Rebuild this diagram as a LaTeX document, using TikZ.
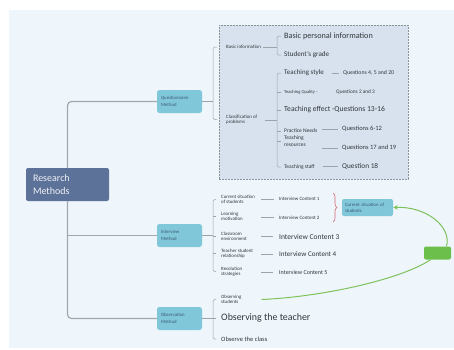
\documentclass[tikz,border=0pt]{standalone}
\usepackage{fontspec}
\setmainfont{Carlito}
\usetikzlibrary{decorations.pathreplacing,arrows.meta}
\definecolor{bgc}{HTML}{EEF5FB}
\definecolor{rmc}{HTML}{5D7299}
\definecolor{boxteal}{HTML}{80C8D9}
\definecolor{dashfill}{HTML}{D8E2EE}
\definecolor{dashc}{HTML}{8A949E}
\definecolor{linec}{HTML}{9CA3AA}
\definecolor{trunkc}{HTML}{A3A8AD}
\definecolor{textc}{HTML}{30363C}
\definecolor{boxtext}{HTML}{3D5A76}
\definecolor{gfill}{HTML}{6CBF4A}
\definecolor{gline}{HTML}{7DC25C}
\definecolor{bracered}{HTML}{D46C72}
\newcommand\myfs[2]{\fontsize{#1}{#2}\selectfont}
\tikzset{
  rmbox/.style={fill=rmc, rounded corners=2pt, text width=69pt, inner xsep=7pt, inner ysep=0pt,
    minimum height=33pt, align=left, text=white!90!rmc, font=\myfs{10}{12.5}},
  mbox/.style={fill=boxteal, rounded corners=2.5pt, text width=37pt, inner xsep=4pt, inner ysep=0pt,
    minimum height=23pt, align=left, text=boxtext, font=\myfs{4.8}{6.5}},
  sbox/.style={fill=boxteal, rounded corners=2pt, text width=45pt, inner xsep=3pt, inner ysep=0pt,
    minimum height=17pt, align=left, text=boxtext, font=\myfs{4.8}{6}},
  dbox/.style={fill=dashfill, draw=dashc, line width=0.9pt, dash pattern=on 1.8pt off 1.2pt,
    minimum width=189pt, minimum height=154pt, inner sep=0pt},
  gbox/.style={fill=gfill, rounded corners=2pt, minimum width=27pt, minimum height=13pt, inner sep=0pt},
  txt/.style={inner sep=0pt, anchor=west, align=left, text=textc},
  small/.style={font=\myfs{4.9}{5.3}},
  trunk/.style={draw=trunkc, line width=1.2pt, rounded corners=4pt},
  lnk/.style={draw=linec, line width=0.5pt},
  brk/.style={draw=linec, line width=0.5pt, rounded corners=1.5pt},
  gln/.style={draw=gline, line width=1pt},
  redbrace/.style={draw=bracered, line width=0.6pt, decorate, decoration={brace, amplitude=4pt}},
}
\begin{document}
\begin{tikzpicture}[x=1pt,y=-1pt]
\useasboundingbox (0,0) rectangle (454,349);
\fill[white] (0,0) rectangle (454,349);
\fill[bgc] (9,10) rectangle (454,348);

% dashed questionnaire area
\node[dbox] (qbox) at (313.5,102) {};

% root and methods
\node[rmbox] (rm) at (67.5,184.5) {Research\\Methods};
\node[mbox] (qm) at (179.5,101.5) {Questionnaire\\Method};
\node[mbox] (im) at (179.5,235.5) {Interview\\Method};
\node[mbox] (om) at (179.5,318.5) {Observation\\Method};
\draw[trunk] (qm.west) -| (rm.north);
\draw[trunk] (om.west) -| (rm.south);
\draw[trunk] (im.west) -- (im.west -| rm.south);

% ---------- Questionnaire ----------
\node[txt, small] (bi) at (226,47) {Basic information};
\node[txt, small] (cp) at (226,119.5) {Classification of\\problems};
\coordinate (qb) at (213,101.5);
\draw[lnk] (qm.east) -- (qb);
\draw[brk] ([xshift=-9pt]bi.west) -- (bi.west -| qb) -- (cp.west -| qb) -- ([xshift=-9pt]cp.west);

\node[txt, font=\myfs{8.2}{9}] (bp) at (284,36) {Basic personal information};
\node[txt, font=\myfs{7.1}{8}] (sg) at (284,55) {Student's grade};
\coordinate (bb) at (277,47);
\draw[lnk] ([xshift=2pt]bi.east) -- (bb);
\draw[brk] ([xshift=-3pt]bp.west) -- (bp.west -| bb) -- (sg.west -| bb) -- ([xshift=-3pt]sg.west);

\node[txt, font=\myfs{7}{8}] (ts) at (284,73) {Teaching style};
\node[txt, font=\myfs{5.8}{6.5}] (q1) at (343,73) {Questions 4, 5 and 20};
\node[txt, font=\myfs{4.6}{5.3}] (tq) at (284,92) {Teaching Quality -};
\node[txt, font=\myfs{5.3}{6}] (q2) at (336,92) {Questions 2 and 3};
\node[txt, font=\myfs{7.6}{8.5}] (te) at (284,110) {Teaching effect -Questions 13-16};
\node[txt, font=\myfs{5.5}{7}] (pn) at (284,131) {Practice Needs};
\node[txt, font=\myfs{5.5}{7}] (tr) at (284,141.5) {Teaching\\resources};
\node[txt, font=\myfs{6.5}{7.5}] (q6) at (342,129) {Questions 6-12};
\node[txt, font=\myfs{6.5}{7.5}] (q17) at (342,148) {Questions 17 and 19};
\node[txt, font=\myfs{5.5}{6.5}] (tsf) at (284,167) {Teaching staff};
\node[txt, font=\myfs{7.3}{8}] (q18) at (342,166) {Question 18};

\coordinate (cb) at (277,120);
\draw[lnk] ([xshift=8pt]cp.east |- cb) -- (cb);
\draw[brk] ([xshift=-3pt]ts.west) -- (ts.west -| cb) -- (tsf.west -| cb) -- ([xshift=-3pt]tsf.west);
\foreach \n in {tq,te,pn,tr} \draw[lnk] (\n.west -| cb) -- ([xshift=-3pt]\n.west);
\draw[lnk, shorten <=8pt, shorten >=4pt] (ts.east) -- (q1.west);
\draw[lnk, shorten <=5pt, shorten >=4pt] (pn.east |- q6.west) -- (q6.west);
\draw[lnk, shorten <=16pt, shorten >=4pt] (tr.east |- q17.west) -- (q17.west);
\draw[lnk, shorten <=8pt, shorten >=4pt] (tsf.east |- q18.west) -- (q18.west);

% ---------- Interview ----------
\node[txt, small] (cs) at (221,199.5) {Current situation\\of students};
\node[txt, small] (lm) at (221,216.5) {Learning\\motivation};
\node[txt, small] (ce) at (221,236) {Classroom\\environment};
\node[txt, small] (tsr) at (221,253.5) {Teacher student\\relationship};
\node[txt, small] (rs) at (221,271.5) {Resolution\\strategies};
\coordinate (ib) at (213,235.5);
\draw[lnk] (im.east) -- (ib);
\draw[brk] ([xshift=-5pt]cs.west) -- (cs.west -| ib) -- (rs.west -| ib) -- ([xshift=-5pt]rs.west);
\foreach \n in {lm,ce,tsr} \draw[lnk] (\n.west -| ib) -- ([xshift=-5pt]\n.west);

\node[txt, font=\myfs{5}{6}] (ic1) at (279,199) {Interview Content 1};
\node[txt, font=\myfs{5}{6}] (ic2) at (279,217.5) {Interview Content 2};
\node[txt, font=\myfs{7.5}{8.5}] (ic3) at (279,236.5) {Interview Content 3};
\node[txt, font=\myfs{7.1}{8}] (ic4) at (279,254.5) {Interview Content 4};
\node[txt, font=\myfs{6}{7}] (ic5) at (279,272.7) {Interview Content 5};
\coordinate (ilx) at (261,0);
\draw[lnk] (ilx |- ic1.west) -- ([xshift=-5pt]ic1.west);
\draw[lnk] (ilx |- ic2.west) -- ([xshift=-5pt]ic2.west);
\draw[lnk] (ilx |- ic3.west) -- ([xshift=-6pt]ic3.west);
\draw[lnk] (ilx |- ic4.west) -- ([xshift=-6pt]ic4.west);
\draw[lnk] (ilx |- ic5.west) -- ([xshift=-6pt]ic5.west);

\coordinate (brt) at (333,193);
\coordinate (brb) at (333,222);
\draw[redbrace] (brt) -- (brb);
\node[sbox] (cur) at (367.5,207.5) {Current situation of\\students};

% ---------- Observation ----------
\node[txt, small] (os) at (221,299.5) {Observing\\students};
\node[txt, font=\myfs{9.9}{11}] (ot) at (221,318) {Observing the teacher};
\node[txt, font=\myfs{6.5}{7.5}] (oc) at (221,339) {Observe the class};
\coordinate (ob) at (213,318.5);
\draw[lnk] (om.east) -- (ob);
\draw[brk] ([xshift=-5pt]os.west) -- (os.west -| ob) -- (oc.west -| ob) -- ([xshift=-5pt]oc.west);
\draw[lnk] (ot.west -| ob) -- ([xshift=-5pt]ot.west);

% ---------- green relation ----------
\node[gbox] (gb) at (437.5,253) {};
\draw[gln, -{Stealth[length=4.5pt,width=4.5pt,inset=1.5pt]}] ([xshift=9pt]gb.north) .. controls (452,226) and (425,206) .. (cur.east);
\draw[gln] ([xshift=-7pt]gb.south) .. controls (400,280) and (320,297) .. ([xshift=20pt]os.east);
\end{tikzpicture}
\end{document}
